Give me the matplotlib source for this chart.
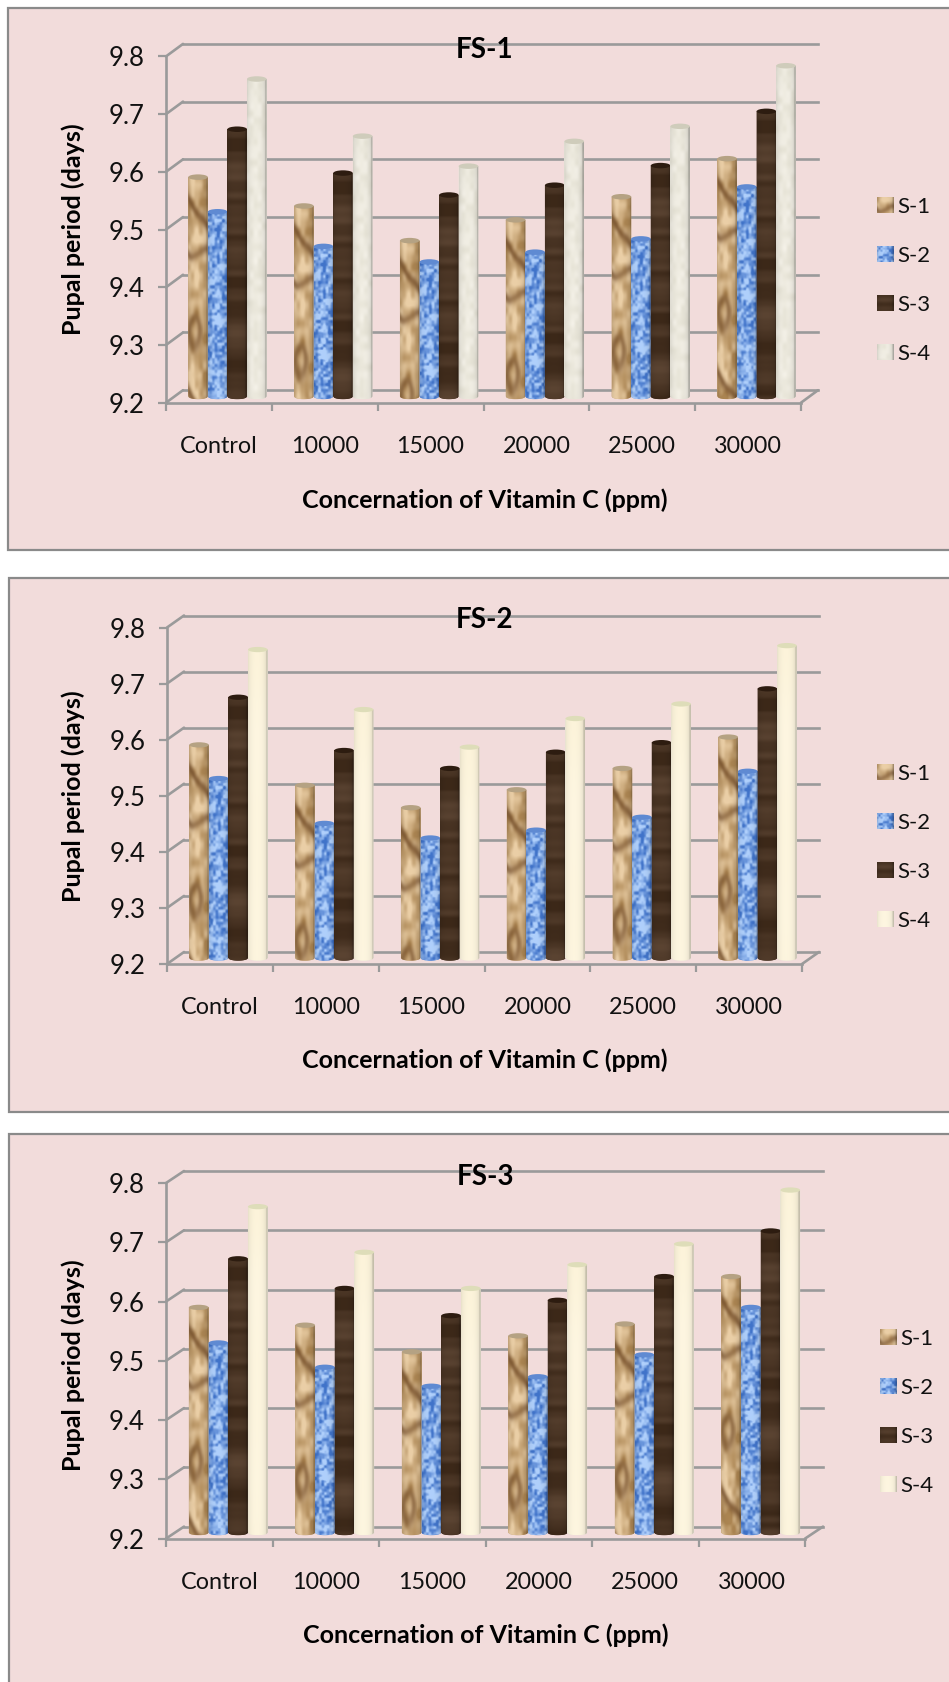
import numpy as np
import matplotlib
matplotlib.use("Agg")
import matplotlib.pyplot as plt
from matplotlib.patches import Rectangle, Ellipse, PathPatch, Patch
from matplotlib.path import Path
from matplotlib.transforms import Affine2D, Bbox, TransformedBbox
from matplotlib.image import BboxImage
from matplotlib.legend_handler import HandlerBase

plt.rcParams["font.family"] = ["Lato", "DejaVu Sans"]

categories = ["Control", "10000", "15000", "20000", "25000", "30000"]
series_names = ["S-1", "S-2", "S-3", "S-4"]
y_ticks = [9.2, 9.3, 9.4, 9.5, 9.6, 9.7, 9.8]

fs1_s1 = [9.58, 9.53, 9.47, 9.506, 9.546, 9.612]
fs1_s2 = [9.52, 9.46, 9.433, 9.45, 9.473, 9.563]
fs1_s3 = [9.663, 9.587, 9.549, 9.566, 9.60, 9.694]
fs1_s4 = [9.75, 9.651, 9.599, 9.642, 9.668, 9.773]

fs2_s1 = [9.58, 9.508, 9.468, 9.50, 9.538, 9.594]
fs2_s2 = [9.52, 9.44, 9.414, 9.428, 9.451, 9.533]
fs2_s3 = [9.665, 9.57, 9.538, 9.567, 9.584, 9.68]
fs2_s4 = [9.75, 9.643, 9.576, 9.627, 9.653, 9.757]

fs3_s1 = [9.58, 9.55, 9.505, 9.532, 9.552, 9.632]
fs3_s2 = [9.52, 9.479, 9.447, 9.463, 9.50, 9.58]
fs3_s3 = [9.662, 9.612, 9.566, 9.592, 9.632, 9.709]
fs3_s4 = [9.75, 9.673, 9.612, 9.652, 9.687, 9.778]

W, H = 949, 1682
BG = "#f2dcdb"
FRAME = "#8a8a8a"
GRID = "#9a9a9a"
TXT = "#111111"

fig = plt.figure(figsize=(W / 100, H / 100), dpi=100, facecolor="white")


# ---------- bitmap-like textures (deterministic, purely decorative) ----------
def hash_noise(nx, ny, cell_x, cell_y, seed):
    xs = np.arange(nx) / cell_x
    ys = np.arange(ny) / cell_y
    xi, yi = np.floor(xs).astype(int), np.floor(ys).astype(int)
    fx, fy = xs - xi, ys - yi
    def h(a, b):
        v = np.sin(a * 12.9898 + b * 78.233 + seed) * 43758.5453
        return v - np.floor(v)
    A, B = np.meshgrid(xi, yi)
    FX, FY = np.meshgrid(fx, fy)
    FX = FX * FX * (3 - 2 * FX)
    FY = FY * FY * (3 - 2 * FY)
    return (h(A, B) * (1 - FX) + h(A + 1, B) * FX) * (1 - FY) + \
           (h(A, B + 1) * (1 - FX) + h(A + 1, B + 1) * FX) * FY


def mix(c0, c1, t):
    c0 = np.array(matplotlib.colors.to_rgb(c0))
    c1 = np.array(matplotlib.colors.to_rgb(c1))
    return c0 + (c1 - c0) * t[..., None]


def shade(img, edge, peak=1.04):
    n = img.shape[1]
    u = np.linspace(-1, 1, n)
    prof = np.sqrt(np.clip(1 - (u + 0.1) ** 2, 0, 1))
    prof = edge + (peak - edge) * prof ** 0.5
    return np.clip(img * prof[None, :, None], 0, 1)


def blur(a, k=3):
    kern = np.ones(k) / k
    return np.apply_along_axis(lambda r: np.convolve(r, kern, mode="same"), 0, a)


def tile_s1(nx=24, ny=340):
    n = 0.55 * hash_noise(nx, ny, 10, 20, 1.3) + 0.45 * hash_noise(nx, ny, 5, 9, 9.4)
    img = mix("#a5804f", "#e2c7a0", np.clip((n - 0.2) / 0.6, 0, 1))
    X, D = np.meshgrid(np.linspace(0, 1, nx), np.arange(ny))
    warp = 6 * (hash_noise(nx, ny, 10, 30, 6.6) - 0.5)
    D2 = D + warp
    dark = np.zeros_like(n)
    for off in (0, 192):
        dark = np.maximum(dark, np.exp(-((D2 - off - 22 - X * 28) / 5.5) ** 2) * 0.75)
        dark = np.maximum(dark, np.exp(-((D2 - off - 76 - 4 * np.sin(X * 5)) / 4.5) ** 2) * (0.35 + 0.45 * n))
    ring = np.exp(-((np.sqrt(((X - 0.32) / 0.4) ** 2 + ((D2 - 155) / 18) ** 2) - 0.7) / 0.35) ** 2)
    dark = np.maximum(dark, ring * 0.6 * (X < 0.75))
    dark = blur(dark, 5)
    return mix("#75502c", "#6f4a28", np.ones_like(dark)) * dark[..., None] + img * (1 - dark[..., None])


def tile_s2(nx=24, ny=340):
    n = 0.6 * hash_noise(nx, ny, 3.0, 3.0, 2.1) + 0.4 * hash_noise(nx, ny, 6.0, 5.0, 4.2)
    t = np.clip((n - 0.22) / 0.5, 0, 1)
    return mix("#3e6fc2", "#a9c8f2", t)


def tile_s3(nx=24, ny=340):
    rows = 0.5 * hash_noise(1, ny, 1, 6, 5.5) + 0.5 * hash_noise(1, ny, 1, 22, 7.1)
    t = np.clip((rows - 0.3) / 0.55, 0, 1)
    return mix("#3a2718", "#574130", np.repeat(t, nx, axis=1))


def tile_s4_grey(nx=24, ny=340):
    n = hash_noise(nx, ny, 5, 7, 8.8)
    return mix("#e2dfd2", "#f0ede4", n)


def tile_s4_cream(nx=24, ny=340):
    n = hash_noise(1, ny, 1, 90, 3.7)
    return mix("#fcf3d8", "#fff9ea", np.repeat(n, nx, axis=1))


TEX_GREY = [shade(tile_s1(), .78), shade(tile_s2(), .78), shade(tile_s3(), .75), shade(tile_s4_grey(), .72, 1.02)]
TEX_CREAM = [TEX_GREY[0], TEX_GREY[1], TEX_GREY[2], shade(tile_s4_cream(), .78, 1.0)]
BASE = ["#c6a378", "#6f98dc", "#402a1a", "#e8e5d9"]
TOP_GREY = ["#b5a283", "#5f8ad2", "#2d1c10", "#cfccbb"]
TOP_CREAM = ["#b5a283", "#5f8ad2", "#2d1c10", "#deddb9"]


class SwatchHandler(HandlerBase):
    def __init__(self, tile):
        super().__init__()
        self.tile = tile

    def create_artists(self, legend, orig, xd, yd, w, h, fs, trans):
        bb = TransformedBbox(Bbox.from_bounds(-xd, -yd, w, h), trans)
        im = BboxImage(bb, interpolation="bilinear")
        im.set_data(self.tile[60:82])
        return [im]


def panel(name, frame, ax_px, depth, bar_vals, tex, tops, title_y, tick_y, xlab_y, ylab_cy, leg, cx=484.5):
    fx, ftop, fbot = frame
    fig.add_artist(Rectangle((fx / W, 1 - fbot / H), (W + 20 - fx) / W, (fbot - ftop) / H,
                             transform=fig.transFigure, fc=BG, ec=FRAME, lw=1.6, zorder=-5))
    x0, x1, y_top, y_bot = ax_px
    ax = fig.add_axes([x0 / W, 1 - y_bot / H, (x1 - x0) / W, (y_bot - y_top) / H])
    ax.patch.set_alpha(0)
    ax.set_xlim(0, 6)
    ax.set_ylim(9.2, 9.8)
    dx, dy = depth
    back = ax.transData + Affine2D().translate(dx, dy)
    mid = ax.transData + Affine2D().translate(dx / 2, dy / 2)

    # walls and floor
    def diag(xv, yv):
        a = ax.transData.transform((xv, yv))
        ax.annotate("", xy=(a[0] + dx, a[1] + dy), xytext=(a[0], a[1]), xycoords="figure pixels",
                    textcoords="figure pixels", zorder=1,
                    arrowprops=dict(arrowstyle="-", color=GRID, lw=1.9, shrinkA=0, shrinkB=0))
    for v in y_ticks:
        ax.plot([0, 6], [v, v], color=GRID, lw=1.9, transform=back, clip_on=False, zorder=1)
        diag(0, v)
    diag(6, 9.2)

    for s in ("top", "right"):
        ax.spines[s].set_visible(False)
    for s in ("left", "bottom"):
        ax.spines[s].set_color(GRID)
        ax.spines[s].set_linewidth(1.9)

    ax.set_yticks(y_ticks)
    ax.set_yticklabels([f"{v:.1f}" for v in y_ticks], fontsize=18.5, color=TXT)
    ax.tick_params(axis="y", length=6, width=1.6, color=GRID, pad=9.5)
    ax.set_xticks(np.arange(7))
    ax.set_xticklabels([""] * 7)
    ax.tick_params(axis="x", which="major", length=6, width=1.6, color=GRID)
    ax.set_xticks(np.arange(6) + 0.5, minor=True)
    ax.set_xticklabels(categories, minor=True, fontsize=16.8, color=TXT)
    ax.tick_params(axis="x", which="minor", length=0, pad=0)
    for lab in ax.get_xticklabels(minor=True):
        lab.set_verticalalignment("center")
        lab.set_transform(matplotlib.transforms.blended_transform_factory(ax.transData, fig.transFigure))
        lab.set_position((lab.get_position()[0], 1 - tick_y / H))

    # cylinders
    scale_px = (y_bot - y_top) / 0.6
    eh = dy * 0.22 / scale_px          # half-height of the end ellipses, in data units
    bw = 0.185
    offs = (np.arange(4) - 1.5) * bw
    for s, vals in enumerate(bar_vals):
        xs = np.arange(6) + 0.5 + offs[s]
        z = 3 + s
        bars = ax.bar(xs, np.array(vals) - 9.2, bottom=9.2, width=bw, color=BASE[s], zorder=z, linewidth=0)
        for r, v in zip(bars, vals):
            r.set_transform(mid)
            l, w = r.get_x(), r.get_width()
            t = np.linspace(0, 1, 25)
            bx = l + w * t
            by = 9.2 - eh * np.sqrt(np.clip(1 - (2 * t - 1) ** 2, 0, 1))
            verts = np.vstack([[l, v], np.column_stack([bx, by]), [l + w, v], [l, v]])
            clip = PathPatch(Path(verts), transform=mid, fc=BASE[s], ec="none", zorder=z)
            ax.add_patch(clip)
            n = int(round((v - 9.2 + eh) * scale_px))
            im = ax.imshow(tex[s][:max(n, 2)], extent=(l, l + w, 9.2 - eh, v), aspect="auto",
                           origin="upper", interpolation="bilinear", transform=mid, zorder=z + 0.1)
            im.set_clip_path(clip)
            ax.add_patch(Ellipse((l + w / 2, v), w, 2 * eh, transform=mid, fc=tops[s], ec="none",
                                 zorder=z + 0.2))
    ax.set_xlim(0, 6)
    ax.set_ylim(9.2, 9.8)

    fig.text(cx / W, 1 - title_y / H, name, ha="center", va="center", fontsize=20, fontweight="bold", color="black", zorder=20)
    fig.text(cx / W, 1 - xlab_y / H, "Concernation of Vitamin C (ppm)", ha="center", va="center",
             fontsize=18, fontweight="bold", color="black")
    fig.text(73.5 / W, 1 - ylab_cy / H, "Pupal period (days)", rotation=90, ha="center", va="center",
             fontsize=18, fontweight="bold", color="black")

    handles = [Patch(label=n) for n in series_names]
    hmap = {h: SwatchHandler(tex[i]) for i, h in enumerate(handles)}
    lx, ly, lsp = leg
    fig.legend(handles=handles, handler_map=hmap, loc="upper left",
               bbox_to_anchor=(lx / W, 1 - ly / H), frameon=False, fontsize=16,
               handlelength=16 / 22.2, handleheight=0.7, handletextpad=0.2,
               labelspacing=lsp, borderpad=0, borderaxespad=0, labelcolor=TXT)
    return ax


panel("FS-1", (8, 8, 550), (166, 801, 56.4, 402.7), (17, 12.5),
      [fs1_s1, fs1_s2, fs1_s3, fs1_s4], TEX_GREY, TOP_GREY, 50, 446.5, 500, 229, (877, 197, 1.31))
panel("FS-2", (8.5, 578, 1112), (167, 802, 627.5, 964), (17, 12),
      [fs2_s1, fs2_s2, fs2_s3, fs2_s4], TEX_CREAM, TOP_CREAM, 620, 1007.5, 1060.5, 796, (877, 764, 1.31))
panel("FS-3", (8.5, 1134, 1700), (166, 805, 1183, 1538.6), (18, 12),
      [fs3_s1, fs3_s2, fs3_s3, fs3_s4], TEX_CREAM, TOP_CREAM, 1177, 1582.5, 1635.5, 1365, (880, 1329, 1.31), cx=485.5)

fig.savefig("out.png", dpi=100, facecolor="white")
